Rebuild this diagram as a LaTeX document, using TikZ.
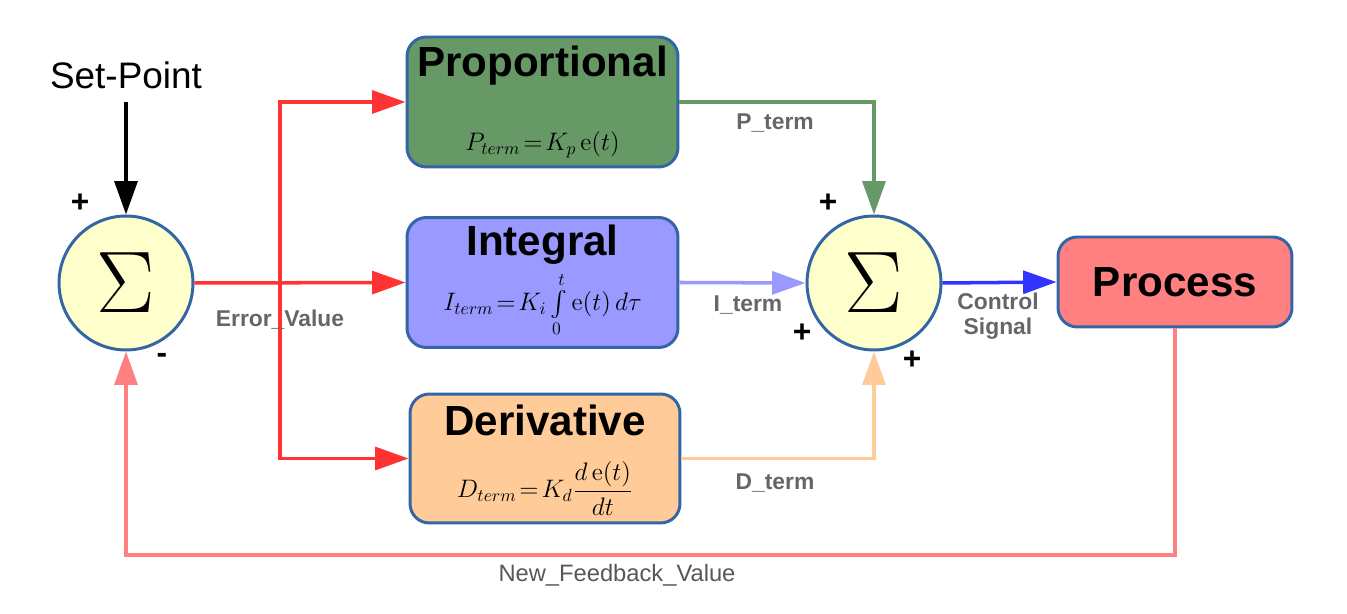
\documentclass[tikz,border=0pt]{standalone}
\usepackage{fontspec}
\setsansfont{Liberation Sans}
\usepackage{amsmath}
\usepackage{graphicx}
\usetikzlibrary{arrows.meta,positioning}
\definecolor{boxbd}{HTML}{3465A4}
\definecolor{propfill}{HTML}{669966}
\definecolor{intfill}{HTML}{9999FF}
\definecolor{derfill}{HTML}{FFCC99}
\definecolor{procfill}{HTML}{FF8080}
\definecolor{sumfill}{HTML}{FFFFCC}
\definecolor{errred}{HTML}{FF3333}
\definecolor{ctrlblue}{HTML}{3333FF}
\definecolor{lblgray}{HTML}{666666}
\newcommand{\bigsum}{\scalebox{2.4}{$\Sigma$}}
\tikzset{
  block/.style={draw=boxbd,line width=1.7pt,rounded corners=11pt,
                minimum width=5.42cm,minimum height=2.6cm},
  summer/.style={circle,draw=boxbd,fill=sumfill,line width=1.7pt,
                 minimum size=2.68cm,inner sep=0pt,
                 font=\fontsize{20.74}{22}\selectfont},
  title/.style={font=\sffamily\bfseries\fontsize{24}{26}\selectfont,
                anchor=base,inner sep=0pt},
  formula/.style={font=\fontsize{14.4}{17}\selectfont},
  sig/.style={font=\sffamily\bfseries\fontsize{13}{15}\selectfont,
              text=lblgray,align=center},
  sgn/.style={font=\sffamily\bfseries\fontsize{18}{18}\selectfont},
  wire/.style={-{Triangle[length=19pt,width=13pt]},line width=2pt},
}

\begin{document}
\begin{tikzpicture}[x=0.02cm,y=-0.02cm]
  \useasboundingbox (0,0) rectangle (1347,614);

  % summing junctions
  \node[summer] (sum1) at (126,283) {\bigsum};
  \node[summer] (sum2) at (874,283) {\bigsum};

  % Set-Point input
  \node[font=\sffamily\fontsize{21}{23}\selectfont] (sp) at (126,75) {Set-Point};
  \draw[wire,black,shorten <=4pt] (sp) -- (sum1);

  % P, I, D blocks
  \node[block,fill=propfill] (prop) at (542.5,102) {};
  \node[title] (propt) at ([yshift=-0.82cm]prop.north) {Proportional};
  \node[formula] (propf) at ([yshift=0.48cm]prop.south)
    {$P_{term}\!=\!K_p\,\mathrm{e}(t)$};

  \node[block,fill=intfill] (integ) at (542.5,282.5) {};
  \node[title] (integt) at ([yshift=-0.78cm]integ.north) {Integral};
  \node[formula,inner sep=0pt] (integf) at ([yshift=-0.44cm]integ.center)
    {$I_{term}\!=\!K_i\int\limits_0^t\mathrm{e}(t)\,d\tau$};

  \node[block,fill=derfill,minimum width=5.4cm,minimum height=2.58cm]
    (deriv) at (545,458.5) {};
  \node[title] (derivt) at ([yshift=-0.86cm]deriv.north) {Derivative};
  \node[formula] (derivf) at ([yshift=0.72cm]deriv.south)
    {$\displaystyle D_{term}\!=\!K_d\frac{d\,\mathrm{e}(t)}{dt}$};

  % plant
  \node[block,fill=procfill,minimum width=4.68cm,minimum height=1.8cm]
    (proc) at (1175,282) {};
  \node[title,anchor=center] (proct) at (proc.center) {Process};

  % error signal fan-out
  \coordinate (br) at (280,283);
  \draw[wire,errred] (sum1.east) -- (integ.west);
  \draw[wire,errred] (br) |- (prop.west);
  \draw[wire,errred] (br) |- (deriv.west);

  % P, I, D terms into second summer
  \draw[wire,propfill] (prop.east) -| (sum2.north);
  \draw[wire,intfill] (integ.east) -- (sum2.west);
  \draw[wire,derfill] (deriv.east) -| (sum2.south);

  % control signal and feedback
  \draw[wire,ctrlblue] (sum2.east) -- (proc.west);
  \coordinate (fb) at (126,555);
  \draw[wire,procfill] (proc.south) |- (fb) -- (sum1.south);

  % signal names
  \node[sig] (perr) at (280,320) {Error\_Value};
  \node[sig] (pt) at (775,123) {P\_term};
  \node[sig] (it) at (748,305) {I\_term};
  \node[sig] (dt) at (775,483) {D\_term};
  \node[sig,font=\sffamily\bfseries\fontsize{13}{14}\selectfont] (cs)
    at (998,316) {Control\\Signal};
  \node[sig,font=\sffamily\fontsize{13.5}{15}\selectfont,text=lblgray!85!black]
    (nf) at (617,575) {New\_Feedback\_Value};

  % signs
  \node[sgn] (s1) at (80,203) {+};
  \node[sgn] (s2) at (162,358) {-};
  \node[sgn] (s3) at (828,203) {+};
  \node[sgn] (s4) at (802,333) {+};
  \node[sgn] (s5) at (912,360) {+};
\end{tikzpicture}
\end{document}
